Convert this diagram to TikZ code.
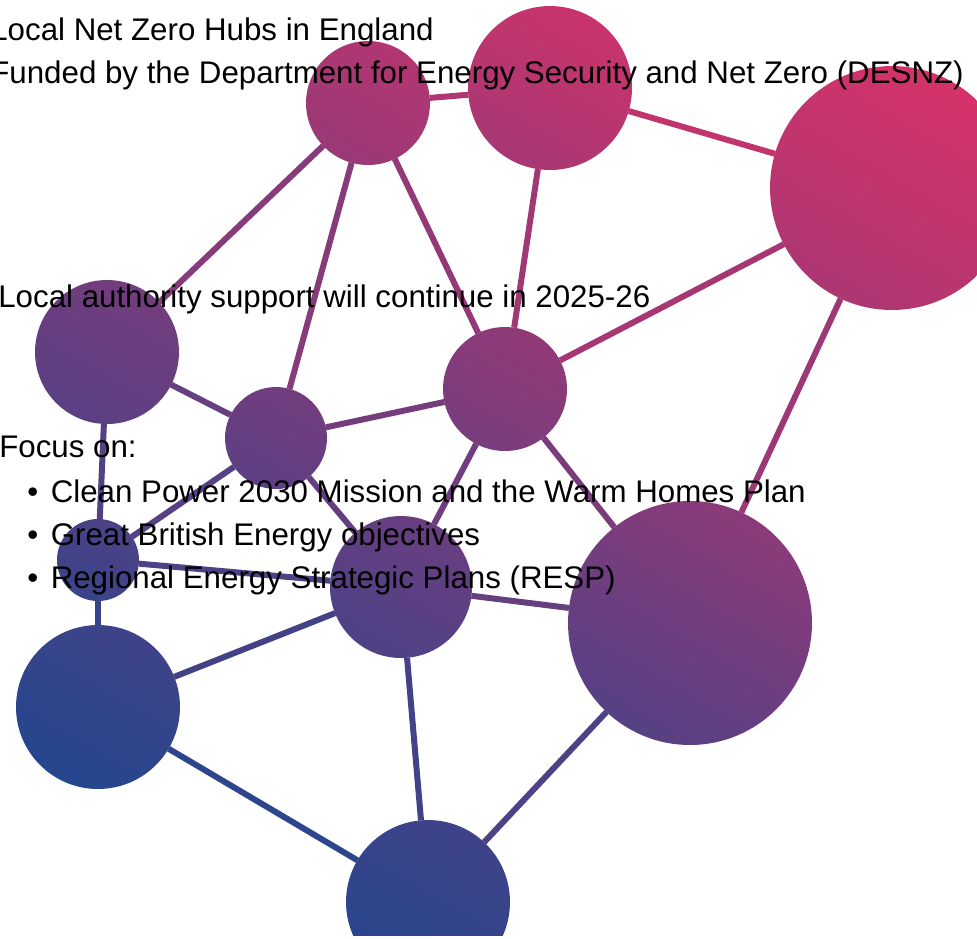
\documentclass[tikz,border=0pt]{standalone}
\usepackage{fontspec}
\setmainfont{Liberation Sans}
\definecolor{hubpink}{RGB}{214,50,106}
\definecolor{hubblue}{RGB}{36,70,142}

\begin{document}
\begin{tikzpicture}[x=0.02cm, y=-0.02cm,
  hub/.style 2 args={circle, inner sep=0pt, outer sep=0pt, top color=hubpink!#1!hubblue, bottom color=hubpink!#2!hubblue, shading angle=-30},
  link/.style={line width=0.12cm},
  txt/.style={anchor=base west, inner sep=0pt, font=\fontsize{17.8}{21}\selectfont}]
\useasboundingbox (0,0) rectangle (977,938);
\clip (0,0) rectangle (977,935);

\node[hub={80}{66}, minimum size=2.48cm] at (368,103) (h1) {};
\node[hub={93}{74}, minimum size=3.28cm] at (550,88) (h2) {};
\node[hub={100}{77}, minimum size=4.88cm] at (892,188) (h3) {};
\node[hub={45}{30}, minimum size=2.88cm] at (107,352) (h4) {};
\node[hub={44}{32}, minimum size=2.04cm] at (276,438) (h5) {};
\node[hub={62}{47}, minimum size=2.48cm] at (505,389) (h6) {};
\node[hub={23}{13}, minimum size=1.64cm] at (98,560) (h7) {};
\node[hub={39}{23}, minimum size=2.84cm] at (401,587) (h8) {};
\node[hub={58}{28}, minimum size=4.88cm] at (690,623) (h9) {};
\node[hub={15}{0}, minimum size=3.28cm] at (98,707) (h10) {};
\node[hub={15}{2}, minimum size=3.28cm] at (428,902) (h11) {};

\draw[link, hubpink!78!hubblue] (h1) -- (h2);
\draw[link, hubpink!88!hubblue] (h2) -- (h3);
\draw[link, hubpink!55!hubblue] (h1) -- (h4);
\draw[link, hubpink!55!hubblue] (h1) -- (h5);
\draw[link, hubpink!63!hubblue] (h1) -- (h6);
\draw[link, hubpink!69!hubblue] (h2) -- (h6);
\draw[link, hubpink!73!hubblue] (h3) -- (h6);
\draw[link, hubpink!68!hubblue] (h3) -- (h9);
\draw[link, hubpink!37!hubblue] (h4) -- (h5);
\draw[link, hubpink!27!hubblue] (h4) -- (h7);
\draw[link, hubpink!46!hubblue] (h5) -- (h6);
\draw[link, hubpink!28!hubblue] (h5) -- (h7);
\draw[link, hubpink!35!hubblue] (h5) -- (h8);
\draw[link, hubpink!43!hubblue] (h6) -- (h8);
\draw[link, hubpink!49!hubblue] (h6) -- (h9);
\draw[link, hubpink!24!hubblue] (h7) -- (h8);
\draw[link, hubpink!11!hubblue] (h7) -- (h10);
\draw[link, hubpink!37!hubblue] (h8) -- (h9);
\draw[link, hubpink!18!hubblue] (h8) -- (h10);
\draw[link, hubpink!18!hubblue] (h8) -- (h11);
\draw[link, hubpink!24!hubblue] (h9) -- (h11);
\draw[link, hubpink!5!hubblue] (h10) -- (h11);

\node[txt] at (-10,40) (t1) {Local Net Zero Hubs in England};
\node[txt] at (-10,83) (t2) {Funded by the Department for Energy Security and Net Zero (DESNZ)};
\node[txt] at (-2,307) (t3) {Local authority support will continue in 2025-26};
\node[txt] at (-1,457) (t4) {Focus on:};
\node[txt] at (27,502) (b1) {\textbullet\hspace{0.25cm}Clean Power 2030 Mission and the Warm Homes Plan};
\node[txt] at (27,545) (b2) {\textbullet\hspace{0.25cm}Great British Energy objectives};
\node[txt] at (27,588) (b3) {\textbullet\hspace{0.25cm}Regional Energy Strategic Plans (RESP)};
\end{tikzpicture}
\end{document}
